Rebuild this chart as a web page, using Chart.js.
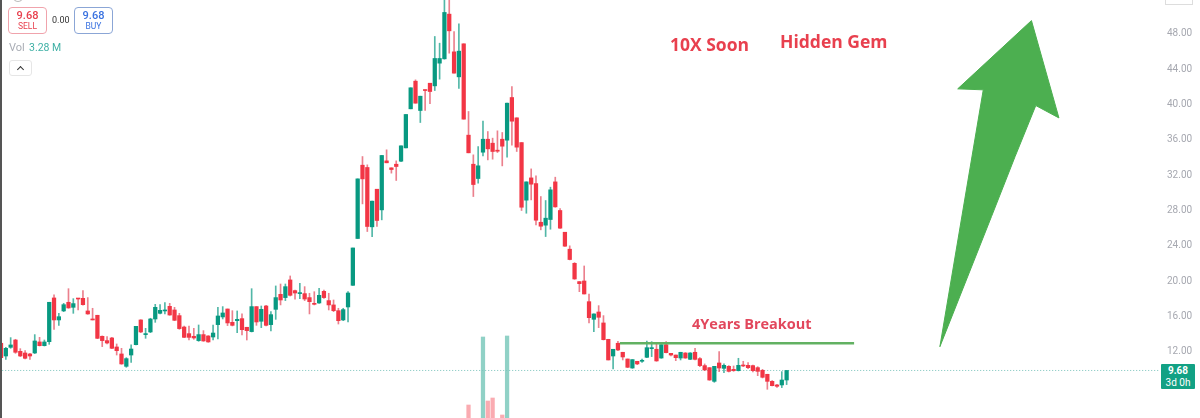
<!DOCTYPE html>
<html>
<head>
<meta charset="utf-8">
<script src="https://cdn.jsdelivr.net/npm/chart.js@4/dist/chart.umd.min.js"></script>
<style>
  html, body { margin: 0; padding: 0; background: #fff; }
  #wrap { position: relative; width: 1200px; height: 418px; overflow: hidden; font-family: "Open Sans", sans-serif; }
  #wrap div { position: absolute; box-sizing: border-box; white-space: nowrap; }
  canvas { position: absolute; left: 0; top: 0; }
  .note { font-weight: 700; color: #e8404e; line-height: 1; }
  .btn { top: 7px; width: 39px; height: 27px; border-radius: 4px; border: 1.5px solid; background: #fff; text-align: center; font-family: Roboto, sans-serif; }
  .btn b { display: block; font-size: 11px; font-weight: 500; line-height: 11px; margin-top: 2px; }
  .btn span { display: block; font-size: 8.5px; line-height: 10px; }
</style>
</head>
<body>
<div id="wrap">
  <canvas id="chart" width="1200" height="418"></canvas>
  <div style="left:0;top:0;width:1.5px;height:418px;background:#555"></div>
  <div style="left:12px;top:-11px;width:12px;height:13px;border:1px solid #bbb;border-radius:50%"></div>
  <div class="btn" style="left:8px;border-color:#f0a3ac;color:#e8404e"><b>9.68</b><span>SELL</span></div>
  <div style="left:52px;top:15px;font:9px Roboto,sans-serif;color:#333">0.00</div>
  <div class="btn" style="left:74px;border-color:#8ba6d6;color:#3a72e0"><b>9.68</b><span>BUY</span></div>
  <div style="left:9px;top:41px;font:11px Roboto,sans-serif;color:#a9adb5">Vol</div>
  <div style="left:29px;top:41px;font:10.5px Roboto,sans-serif;color:#3fb0a5">3.28 M</div>
  <div style="left:9px;top:60px;width:23px;height:16px;border:1px solid #e6e6e6;border-radius:3px;background:#fff">
    <div style="left:8px;top:6px;width:5px;height:5px;border-top:1.5px solid #333;border-left:1.5px solid #333;transform:rotate(45deg)"></div>
  </div>
  <div class="note" style="left:670px;top:36px;font-size:17.5px">10X Soon</div>
  <div class="note" style="left:780px;top:33px;font-size:17.5px">Hidden Gem</div>
  <div class="note" style="left:692px;top:317px;font-size:14.5px;color:#e2475c">4Years Breakout</div>
  <div style="left:1165px;top:-8px;width:28px;height:13px;border:1px solid #ddd"></div>
  <div style="left:1161px;top:364px;width:34px;height:25px;background:#12a184;border-radius:1px;color:#fff;text-align:center;font:10px/12px Roboto,sans-serif;padding-top:1px"><b style="font-weight:700">9.68</b><br>3d 0h</div>
</div>
<script>
const opens = [
  12.76,11.32,12.30,13.13,11.85,11.66,11.55,11.66,12.91,12.49,
  12.94,17.89,15.40,16.42,17.40,16.83,17.85,17.85,16.42,15.47,
  15.93,13.55,13.06,13.36,12.34,11.55,10.15,11.43,12.60,15.40,
  13.74,14.04,15.51,16.15,16.42,16.94,16.53,15.89,14.60,13.85,
  13.55,13.06,13.74,13.59,13.47,14.87,15.74,16.64,15.13,15.32,
  15.55,14.57,14.08,16.91,15.25,16.98,14.87,16.60,18.30,17.93,
  19.93,18.72,18.38,18.38,17.93,17.28,17.32,18.64,17.59,17.10,
  16.45,15.40,16.87,19.32,24.62,32.92,32.66,25.94,30.20,27.86,
  33.41,32.62,33.03,33.37,34.88,39.30,42.43,39.11,41.45,42.20,
  41.90,44.47,44.96,50.02,45.75,42.92,46.66,36.32,33.03,31.41,
  34.39,35.86,35.41,34.62,35.86,35.75,40.58,38.28,35.48,28.96,
  31.48,30.84,26.46,26.13,26.77,31.03,27.79,25.33,23.41,21.81,
  19.74,19.81,17.47,15.47,16.30,15.06,13.21,11.32,12.76,11.74,
  10.98,9.96,10.72,10.72,11.17,12.15,12.08,11.09,12.60,11.62,
  11.43,11.09,11.66,10.94,11.74,11.02,10.23,10.00,8.45,10.53,
  9.92,10.15,9.81,9.66,10.26,10.26,10.23,10.00,9.70,9.25,
  8.45,8.04,8.04,8.60
];
const closes = [
  11.13,12.19,12.57,11.74,11.32,11.06,11.32,13.02,12.49,12.91,
  17.40,15.40,15.77,17.13,16.76,17.25,17.77,17.13,16.08,15.40,
  13.32,13.06,12.79,12.19,11.92,10.42,11.02,12.11,14.68,14.04,
  13.81,15.51,16.83,16.49,16.49,15.96,15.36,14.42,13.43,13.43,
  13.36,13.74,13.02,12.91,13.92,15.85,16.19,15.06,14.79,15.47,
  14.30,14.19,16.91,15.17,16.60,14.79,16.00,17.93,17.66,19.17,
  18.19,18.45,18.45,17.77,17.47,17.17,18.19,17.93,17.10,16.45,
  15.32,16.57,18.45,23.55,31.37,31.37,25.98,28.85,26.66,34.02,
  33.19,32.43,32.77,35.11,38.66,41.68,39.94,40.73,41.37,41.26,
  45.00,45.00,50.21,48.13,43.34,45.83,38.13,34.32,30.73,32.85,
  35.86,34.77,34.47,34.50,35.07,39.94,37.90,34.96,28.16,31.03,
  30.77,26.69,26.01,26.92,30.13,28.20,25.79,23.75,22.24,20.04,
  19.51,18.34,15.66,16.08,15.70,13.17,10.87,12.08,12.00,11.21,
  10.04,10.91,10.42,10.83,12.26,12.26,10.76,12.60,11.70,11.43,
  11.13,11.74,11.09,11.66,10.94,10.23,9.74,8.60,10.15,9.96,
  10.26,9.58,9.66,10.26,10.19,10.00,9.66,9.58,8.91,8.45,
  7.96,7.89,8.60,9.68
];
const highs = [
  12.76,12.30,13.40,13.21,12.15,11.92,11.62,13.74,13.43,13.13,
  17.40,18.23,16.15,17.28,18.94,17.81,17.85,18.72,17.93,16.72,
  15.93,13.59,13.51,13.43,12.68,12.19,11.13,12.57,14.68,15.43,
  14.45,15.59,17.17,17.13,17.36,17.28,16.83,16.15,14.72,14.72,
  14.45,14.83,14.19,13.62,14.83,16.83,16.91,16.64,16.45,16.42,
  16.08,14.57,18.94,16.91,16.98,17.06,16.34,19.25,19.47,19.47,
  20.38,18.79,19.55,19.17,18.42,18.60,18.98,18.79,18.42,17.66,
  16.72,16.72,18.60,23.55,31.37,33.90,32.96,28.85,30.20,34.02,
  34.66,32.62,33.41,35.11,38.66,41.68,42.58,40.73,41.45,42.20,
  47.49,46.73,51.60,51.60,48.05,48.92,46.66,39.00,34.09,35.03,
  37.90,36.73,35.98,36.81,36.62,39.94,41.83,38.28,35.48,31.03,
  32.50,31.71,29.37,28.92,30.43,31.56,28.01,25.33,23.79,21.89,
  19.74,21.51,18.34,16.08,17.02,15.89,13.21,12.08,12.98,11.74,
  10.98,10.91,10.72,10.98,13.02,12.94,12.76,12.60,12.94,11.62,
  11.43,11.74,11.70,11.70,12.19,11.13,10.42,10.00,10.15,11.81,
  10.42,10.23,10.19,11.06,10.72,10.57,10.30,10.11,9.81,9.25,
  8.53,8.11,9.55,9.68
];
const lows = [
  11.06,10.94,12.19,11.62,11.25,10.98,10.94,11.59,12.45,12.45,
  12.64,14.34,14.79,16.34,16.72,16.15,16.53,17.06,16.04,15.40,
  13.28,12.38,12.68,12.15,11.43,10.38,10.04,10.60,12.57,13.96,
  13.32,13.96,15.13,16.08,16.08,15.93,15.32,14.34,13.40,13.13,
  13.21,12.98,12.98,12.87,13.13,13.25,15.51,14.76,14.72,13.96,
  13.70,13.13,14.04,14.79,14.53,14.72,14.15,15.47,17.10,17.59,
  18.11,17.74,17.81,17.59,16.08,17.10,17.28,17.85,16.53,16.34,
  14.94,15.32,15.17,19.30,24.62,28.54,25.41,24.84,25.98,26.73,
  33.19,32.02,31.19,33.33,34.88,39.30,39.94,37.75,39.11,39.87,
  41.37,42.66,44.92,45.60,43.34,41.60,38.13,34.32,29.37,30.88,
  33.98,33.52,33.60,34.35,32.84,33.82,35.18,34.47,27.79,27.48,
  28.99,26.16,25.60,24.84,25.67,28.16,25.75,23.71,22.20,20.00,
  18.60,18.34,15.06,14.08,14.53,13.13,10.87,9.85,11.92,10.87,
  10.00,9.92,10.34,10.60,11.13,11.25,10.72,11.06,11.66,11.32,
  10.79,10.87,11.06,10.91,10.87,10.11,9.66,8.57,8.34,9.55,
  9.43,9.51,9.58,9.62,10.11,9.89,9.51,9.09,8.83,7.55,
  7.92,7.77,7.74,8.08
];

// only these volume bars are tall enough to show at the bottom edge
const volumeIndex = [97, 100, 101, 102, 104, 105];
const volumeValues = [6.5, 40.5, 8.5, 10, 1.5, 41];

const priceTicks = [12, 16, 20, 24, 28, 32, 36, 40, 44, 48];
const lastPrice = 9.68;
const breakoutX = [128.4, 177];
const breakoutY = [12.76, 12.76];
const arrowX = [194.8, 203.8, 198.5, 213.8, 219.5, 214.7, 210.4, 205.5, 194.8];
const arrowY = [12.37, 41.45, 41.56, 49.29, 38.27, 39.67, 33.89, 27.1, 12.37];

const GREEN = "#089981";
const RED = "#f23645";

function isUp(i) {
  return closes[i] >= opens[i];
}

function lineSet(xs, ys, extra) {
  return Object.assign({
    type: "line",
    data: xs.map((x, i) => ({ x: x, y: ys[i] })),
    pointRadius: 0,
    tension: 0
  }, extra);
}

new Chart(document.getElementById("chart"), {
  data: {
    datasets: [
      lineSet(arrowX, arrowY, {
        borderColor: "#4caf50",
        borderWidth: 1,
        backgroundColor: "#4caf50",
        fill: "shape",
        order: 0
      }),
      lineSet(breakoutX, breakoutY, {
        borderColor: "#62b162",
        borderWidth: 2.5,
        order: 0
      }),
      {
        type: "bar",
        data: opens.map((o, i) => ({ x: i, y: [o, closes[i]] })),
        backgroundColor: opens.map((o, i) => isUp(i) ? GREEN : RED),
        barThickness: 3.6,
        minBarLength: 1,
        grouped: false,
        order: 1
      },
      {
        type: "bar",
        data: lows.map((l, i) => ({ x: i, y: [l, highs[i]] })),
        backgroundColor: lows.map((l, i) => isUp(i) ? "rgba(8,153,129,0.7)" : "rgba(224,60,80,0.65)"),
        barThickness: 1,
        grouped: false,
        order: 2
      },
      lineSet([-1, 240.3], [lastPrice, lastPrice], {
        borderColor: "#7cc4bc",
        borderWidth: 1,
        borderDash: [1, 2],
        order: 3
      }),
      {
        type: "bar",
        yAxisID: "vol",
        data: volumeIndex.map((x, i) => ({ x: x, y: volumeValues[i] })),
        backgroundColor: volumeIndex.map(x => isUp(x) ? "rgba(8,153,129,0.45)" : "rgba(242,54,69,0.42)"),
        barThickness: 3.6,
        grouped: false,
        order: 4
      }
    ]
  },
  options: {
    responsive: false,
    animation: false,
    devicePixelRatio: 1,
    layout: { padding: 0, autoPadding: false },
    plugins: { legend: { display: false }, tooltip: { enabled: false } },
    scales: {
      x: { type: "linear", display: false, offset: false, min: -0.21, max: 241.3 },
      y: {
        position: "right",
        min: 4.3,
        max: 51.62,
        afterFit: s => { s.width = 36; s.paddingTop = 0; s.paddingBottom = 0; },
        afterBuildTicks: s => { s.ticks = priceTicks.map(v => ({ value: v })); },
        grid: { display: false, drawTicks: false },
        border: { display: false },
        ticks: {
          padding: 3,
          labelOffset: 2,
          color: "#a6a8b0",
          font: { family: "Roboto", size: 10 },
          callback: v => v.toFixed(2)
        }
      },
      vol: { display: false, min: 0, max: 209 }
    }
  }
});
</script>
</body>
</html>
